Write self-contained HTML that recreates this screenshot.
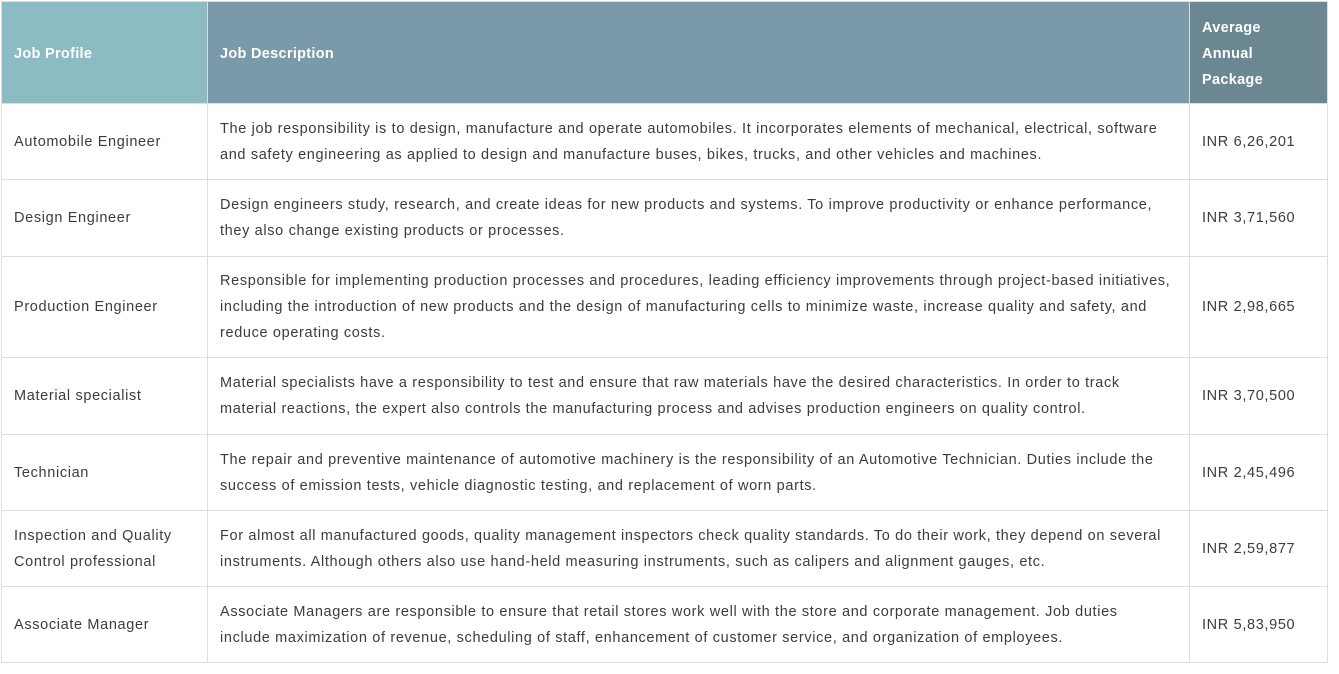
<!DOCTYPE html>
<html><head><meta charset="utf-8"><style>
body{margin:0;background:#fff;width:1339px;height:674px;overflow:hidden}
table{position:absolute;left:1px;top:1px;border-collapse:collapse;table-layout:fixed;font-family:"Liberation Sans",sans-serif;font-size:14.5px;color:#3c3c3c;letter-spacing:0.65px}
td,th{border:1px solid #dedede;padding:0 12px;line-height:26px;vertical-align:middle;text-align:left}
td:nth-child(2){white-space:nowrap}
th{color:#fff;font-weight:bold;font-size:14.5px;letter-spacing:0.3px;padding-top:3px}
.h1{background:#8bbcc3}.h2{background:#7a9aaa}.h3{background:#6b8792}
</style></head><body>
<table>
<colgroup><col style="width:206px"><col style="width:982px"><col style="width:138px"></colgroup>
<tr style="height:102px">
<th class="h1">Job Profile</th>
<th class="h2">Job Description</th>
<th class="h3">Average<br>Annual<br>Package</th></tr>
<tr style="height:76px"><td>Automobile Engineer</td><td>The job responsibility is to design, manufacture and operate automobiles. It incorporates elements of mechanical, electrical, software<br>and safety engineering as applied to design and manufacture buses, bikes, trucks, and other vehicles and machines.</td><td>INR 6,26,201</td></tr>
<tr style="height:77px"><td>Design Engineer</td><td>Design engineers study, research, and create ideas for new products and systems. To improve productivity or enhance performance,<br>they also change existing products or processes.</td><td>INR 3,71,560</td></tr>
<tr style="height:101px"><td>Production Engineer</td><td>Responsible for implementing production processes and procedures, leading efficiency improvements through project-based initiatives,<br>including the introduction of new products and the design of manufacturing cells to minimize waste, increase quality and safety, and<br>reduce operating costs.</td><td>INR 2,98,665</td></tr>
<tr style="height:77px"><td>Material specialist</td><td>Material specialists have a responsibility to test and ensure that raw materials have the desired characteristics. In order to track<br>material reactions, the expert also controls the manufacturing process and advises production engineers on quality control.</td><td>INR 3,70,500</td></tr>
<tr style="height:76px"><td>Technician</td><td>The repair and preventive maintenance of automotive machinery is the responsibility of an Automotive Technician. Duties include the<br>success of emission tests, vehicle diagnostic testing, and replacement of worn parts.</td><td>INR 2,45,496</td></tr>
<tr style="height:76px"><td>Inspection and Quality Control professional</td><td>For almost all manufactured goods, quality management inspectors check quality standards. To do their work, they depend on several<br>instruments. Although others also use hand-held measuring instruments, such as calipers and alignment gauges, etc.</td><td>INR 2,59,877</td></tr>
<tr style="height:76px"><td>Associate Manager</td><td>Associate Managers are responsible to ensure that retail stores work well with the store and corporate management. Job duties<br>include maximization of revenue, scheduling of staff, enhancement of customer service, and organization of employees.</td><td>INR 5,83,950</td></tr>
</table>
</body></html>
